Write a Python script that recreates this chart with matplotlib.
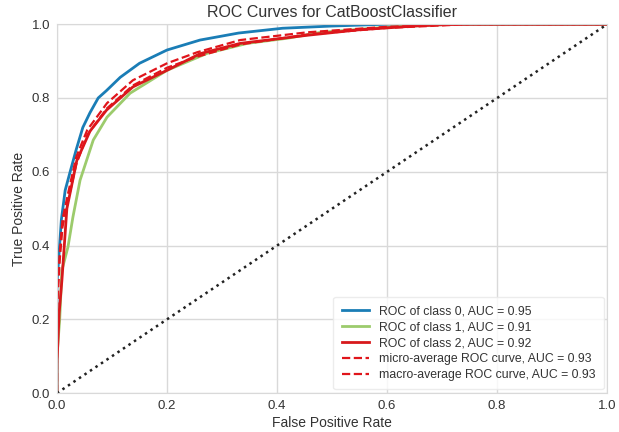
import numpy as np
import matplotlib.pyplot as plt

plt.rcParams['font.family'] = ['Liberation Sans', 'DejaVu Sans']

# ROC points (fpr, tpr)
fpr_0 = [0, 0, 0.003, 0.008, 0.015, 0.024, 0.035, 0.047, 0.06, 0.075, 0.09, 0.115, 0.15, 0.2, 0.26, 0.33, 0.41, 0.5, 0.6, 1.0]
tpr_0 = [0, 0.30, 0.36, 0.47, 0.55, 0.60, 0.66, 0.72, 0.76, 0.80, 0.82, 0.856, 0.894, 0.93, 0.957, 0.976, 0.989, 0.995, 1.0, 1.0]

fpr_1 = [0, 0, 0.005, 0.009, 0.02, 0.029, 0.042, 0.066, 0.091, 0.133, 0.2, 0.273, 0.346, 0.419, 0.48, 0.6, 0.72, 1.0]
tpr_1 = [0, 0.10, 0.20, 0.333, 0.396, 0.477, 0.577, 0.686, 0.748, 0.813, 0.875, 0.921, 0.948, 0.962, 0.978, 0.992, 1.0, 1.0]

fpr_2 = [0, 0, 0.004, 0.009, 0.018, 0.036, 0.06, 0.09, 0.138, 0.2, 0.26, 0.333, 0.455, 0.55, 0.7, 1.0]
tpr_2 = [0, 0.08, 0.217, 0.306, 0.50, 0.63, 0.71, 0.767, 0.83, 0.875, 0.92, 0.948, 0.97, 0.985, 1.0, 1.0]

fpr_avg = [0, 0, 0.005, 0.01, 0.02, 0.035, 0.055, 0.091, 0.138, 0.2, 0.255, 0.333, 0.455, 0.6, 0.75, 1.0]
tpr_micro = [0, 0.25, 0.38, 0.47, 0.54, 0.64, 0.713, 0.786, 0.848, 0.894, 0.924, 0.957, 0.978, 0.993, 1.0, 1.0]
tpr_macro = [0, 0.22, 0.36, 0.45, 0.52, 0.62, 0.70, 0.772, 0.834, 0.882, 0.912, 0.945, 0.972, 0.99, 1.0, 1.0]

auc_vals = [0.95, 0.91, 0.92]
auc_micro = 0.93
auc_macro = 0.93
ticks = [0.0, 0.2, 0.4, 0.6, 0.8, 1.0]

fig = plt.figure(figsize=(6.19, 4.32), dpi=100)
ax = fig.add_axes([0.092, 0.090, 0.889, 0.854])

grid_c = '#d9d9d9'
ax.grid(True, color=grid_c, linewidth=1.0)
ax.set_axisbelow(True)
for s in ax.spines.values():
    s.set_color(grid_c)

colors = ['#1a7db6', '#9ccb6c', '#d7191c']
curves = [(fpr_0, tpr_0), (fpr_1, tpr_1), (fpr_2, tpr_2)]
for i, (f, t) in enumerate(curves):
    ax.plot(f, t, color=colors[i], linewidth=2,
            label='ROC of class {}, AUC = {:.2f}'.format(i, auc_vals[i]))
ax.plot(fpr_avg, tpr_micro, color='#e0151b', linestyle='--', linewidth=1.6,
        label='micro-average ROC curve, AUC = {:.2f}'.format(auc_micro))
ax.plot(fpr_avg, tpr_macro, color='#e0151b', linestyle='--', linewidth=1.6,
        label='macro-average ROC curve, AUC = {:.2f}'.format(auc_macro))
ax.plot([0, 1], [0, 1], color='#222222', linestyle=':', linewidth=1.8)

ax.set_xlim(0, 1)
ax.set_ylim(0, 1)
ax.set_xticks(ticks)
ax.set_yticks(ticks)
ax.tick_params(length=0, labelsize=9.5, colors='#333333', pad=5)
ax.set_title('ROC Curves for CatBoostClassifier', fontsize=11.5, color='#333333', pad=5)
ax.set_xlabel('False Positive Rate', fontsize=10, color='#333333', labelpad=3)
ax.set_ylabel('True Positive Rate', fontsize=10, color='#333333')

leg = ax.legend(loc='lower right', fontsize=8.8, frameon=True, borderpad=0.7,
                labelspacing=0.32, handlelength=2.2, borderaxespad=0.3)
leg.get_frame().set_edgecolor('#e8e8e8')
for txt in leg.get_texts():
    txt.set_color('#333333')

fig.savefig('out.png', dpi=100)
